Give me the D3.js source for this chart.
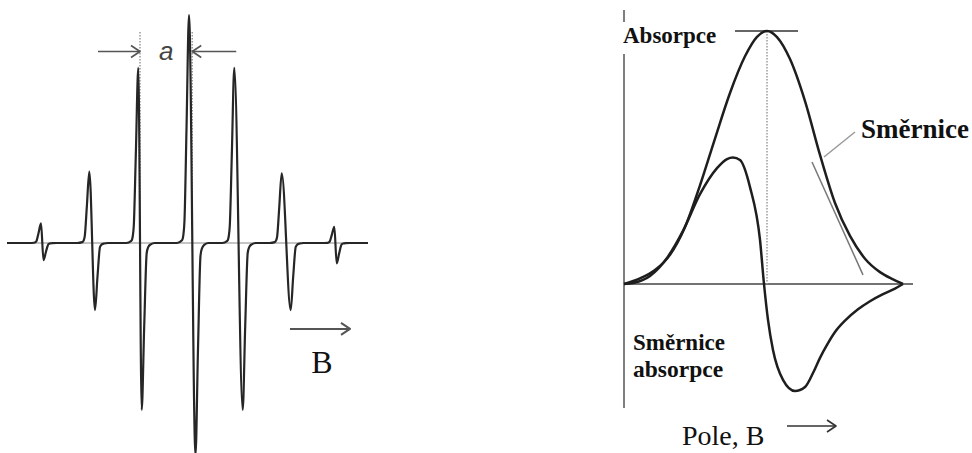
<!DOCTYPE html>
<html>
<head>
<meta charset="utf-8">
<script src="https://cdn.jsdelivr.net/npm/d3@7"></script>
<style>
  body { margin: 0; background: #fff; }
  svg { display: block; }
</style>
</head>
<body>
<svg id="chart"></svg>
<script>
// left: ESR spectrum, seven hyperfine lines (field units)
const linesUpB     = [34, 82.3, 131.3, 182, 227.3, 274.7, 327.3];
const linesDownB   = [36.5, 88, 134.7, 188.5, 235.7, 283.7, 329.7];
const linesUpAmp   = [8.6, 31.3, 76.8, 100, 76.8, 30.6, 7.1];
const linesDownAmp = [7.5, 29.4, 73.2, 93, 73.2, 29.4, 8.9];
// shape of one line: offset from peak, relative height
const riseDx  = [-12, -7, -5.5, -4.5, -2.5, 0];
const riseRel = [0, 0.012, 0.04, 0.1, 0.5, 1];
const fallDx  = [0, 2.5, 5, 6.5, 9, 13];
const fallRel = [-1, -0.5, -0.06, -0.025, -0.008, 0];

// right: absorption curve and its slope (derivative)
const absB = [0, 16, 31, 46, 61, 76, 91, 106, 121, 133, 143, 153, 166, 181, 196, 211, 226, 241, 256, 268, 279];
const absV = [0, 0.022, 0.055, 0.115, 0.225, 0.39, 0.575, 0.755, 0.9, 0.977, 1, 0.976, 0.889, 0.723, 0.51, 0.32, 0.19, 0.1, 0.047, 0.02, 0];
const derB = [0, 9, 26, 43, 59, 76, 93, 103, 109, 116, 126, 136, 140, 144, 149, 159, 171, 181, 189, 196, 203, 211, 221, 234, 246, 259, 271, 279];
const derV = [0, 0.004, 0.032, 0.103, 0.21, 0.355, 0.458, 0.494, 0.5, 0.49, 0.383, 0.174, 0, -0.142, -0.261, -0.379, -0.423, -0.407, -0.352, -0.292, -0.241, -0.19, -0.145, -0.1, -0.068, -0.04, -0.018, 0];
const tangentB = [188, 239];
const tangentV = [0.482, 0.036];

const width = 972;
const height = 453;

const svg = d3.select("svg#chart")
    .attr("width", width)
    .attr("height", height)
    .attr("viewBox", [0, 0, width, height]);

svg.append("rect").attr("width", width).attr("height", height).attr("fill", "#fff");

function arrow(g, x1, y, x2, color, w) {
  const dir = x2 > x1 ? 1 : -1;
  g.append("line")
      .attr("x1", x1).attr("y1", y).attr("x2", x2).attr("y2", y)
      .attr("stroke", color).attr("stroke-width", w);
  g.append("path")
      .attr("d", `M${x2 - dir * 9},${y - 6}L${x2},${y}L${x2 - dir * 9},${y + 6}`)
      .attr("fill", "none").attr("stroke", color).attr("stroke-width", w)
      .attr("stroke-linejoin", "round");
}

// ---------- left panel ----------
const xL = d3.scaleLinear().domain([0, 361]).range([7, 368]);
const yL = d3.scaleLinear().domain([-100, 100]).range([471, 15]);

const spec = [[0, 0]];
linesUpB.forEach((u, i) => {
  riseDx.forEach((dx, j) => spec.push([u + dx, riseRel[j] * linesUpAmp[i]]));
  fallDx.forEach((dx, j) => spec.push([linesDownB[i] + dx, fallRel[j] * linesDownAmp[i]]));
});
spec.push([361, 0]);

const left = svg.append("g");

left.append("line")
    .attr("x1", xL(0)).attr("x2", xL(361))
    .attr("y1", yL(0)).attr("y2", yL(0))
    .attr("stroke", "#8a8a8a").attr("stroke-width", 1);

// dotted guides through the zero crossings of lines 3 and 4
const guides = [2, 3].map(i => (linesUpB[i] + linesDownB[i]) / 2);
left.selectAll("line.guide")
  .data(guides)
  .join("line")
    .attr("class", "guide")
    .attr("x1", d => xL(d)).attr("x2", d => xL(d))
    .attr("y1", yL(92.5)).attr("y2", yL(0))
    .attr("stroke", "#9a9a9a")
    .attr("stroke-width", 1.5)
    .attr("stroke-dasharray", "1.5,1.5");

left.append("path")
    .datum(spec)
    .attr("fill", "none")
    .attr("stroke", "#262626")
    .attr("stroke-width", 2.2)
    .attr("stroke-linejoin", "round")
    .attr("d", d3.line()
        .x(d => xL(d[0]))
        .y(d => yL(d[1]))
        .curve(d3.curveMonotoneX));

const ya = yL(84);
arrow(left, xL(guides[0]) - 42, ya, xL(guides[0]), "#555", 1.6);
arrow(left, xL(guides[1]) + 44, ya, xL(guides[1]), "#555", 1.6);

left.append("text")
    .attr("x", (xL(guides[0]) + xL(guides[1])) / 2)
    .attr("y", 60)
    .attr("text-anchor", "middle")
    .attr("font-family", "Liberation Sans, Arial, sans-serif")
    .attr("font-style", "italic")
    .attr("font-size", 26)
    .attr("fill", "#444")
    .text("a");

arrow(left, xL(283), yL(-37.7), xL(343), "#555", 2);

left.append("text")
    .attr("x", xL(315))
    .attr("y", 373)
    .attr("text-anchor", "middle")
    .attr("font-family", "Liberation Serif, Times New Roman, serif")
    .attr("font-size", 32)
    .attr("fill", "#111")
    .text("B");

// ---------- right panel ----------
const xR = d3.scaleLinear().domain([0, 290]).range([624, 914]);
const yR = d3.scaleLinear().domain([0, 1]).range([284, 31]);

const right = svg.append("g");

right.append("line")
    .attr("x1", xR(0)).attr("x2", xR(0))
    .attr("y1", yR(1.083)).attr("y2", yR(-0.49))
    .attr("stroke", "#555").attr("stroke-width", 1.5);
right.append("line")
    .attr("x1", xR(0)).attr("x2", xR(289))
    .attr("y1", yR(0)).attr("y2", yR(0))
    .attr("stroke", "#444").attr("stroke-width", 1.5);

// peak marker and dotted centre line
right.append("line")
    .attr("x1", xR(111)).attr("x2", xR(174))
    .attr("y1", yR(1)).attr("y2", yR(1))
    .attr("stroke", "#666").attr("stroke-width", 2);
right.append("line")
    .attr("x1", xR(143)).attr("x2", xR(143))
    .attr("y1", yR(1)).attr("y2", yR(0))
    .attr("stroke", "#9a9a9a").attr("stroke-width", 1.5)
    .attr("stroke-dasharray", "1.5,1.5");

const lineR = d3.line()
    .x(d => xR(d[0]))
    .y(d => yR(d[1]))
    .curve(d3.curveMonotoneX);

right.append("path")
    .datum(absB.map((b, i) => [b, absV[i]]))
    .attr("fill", "none").attr("stroke", "#1e1e1e").attr("stroke-width", 2.5)
    .attr("d", lineR);

right.append("path")
    .datum(derB.map((b, i) => [b, derV[i]]))
    .attr("fill", "none").attr("stroke", "#1e1e1e").attr("stroke-width", 2.5)
    .attr("d", lineR);

// tangent ("slope") and its leader
right.append("path")
    .datum(tangentB.map((b, i) => [b, tangentV[i]]))
    .attr("fill", "none").attr("stroke", "#777").attr("stroke-width", 1.5)
    .attr("d", d3.line().x(d => xR(d[0])).y(d => yR(d[1])));
right.append("line")
    .attr("x1", 824).attr("y1", 157).attr("x2", 855).attr("y2", 132)
    .attr("stroke", "#9a9a9a").attr("stroke-width", 1.5);

// white box so the label breaks the axis
right.append("rect")
    .attr("x", 619).attr("y", 22).attr("width", 103).attr("height", 32)
    .attr("fill", "#fff");

const serif = "Liberation Serif, Times New Roman, serif";
const labels = [
  {t: "Absorpce", x: 623, y: 43, s: 23, b: true},
  {t: "Směrnice", x: 861, y: 138, s: 27, b: true},
  {t: "Směrnice", x: 633, y: 350, s: 23, b: true},
  {t: "absorpce", x: 633, y: 377, s: 23.5, b: true},
  {t: "Pole, B", x: 682, y: 445, s: 28, b: false}
];
right.selectAll("text")
  .data(labels)
  .join("text")
    .attr("x", d => d.x)
    .attr("y", d => d.y)
    .attr("font-family", serif)
    .attr("font-weight", d => d.b ? "bold" : "normal")
    .attr("font-size", d => d.s)
    .attr("fill", "#111")
    .text(d => d.t);

arrow(right, 787, 426, 836, "#333", 1.6);
</script>
</body>
</html>
